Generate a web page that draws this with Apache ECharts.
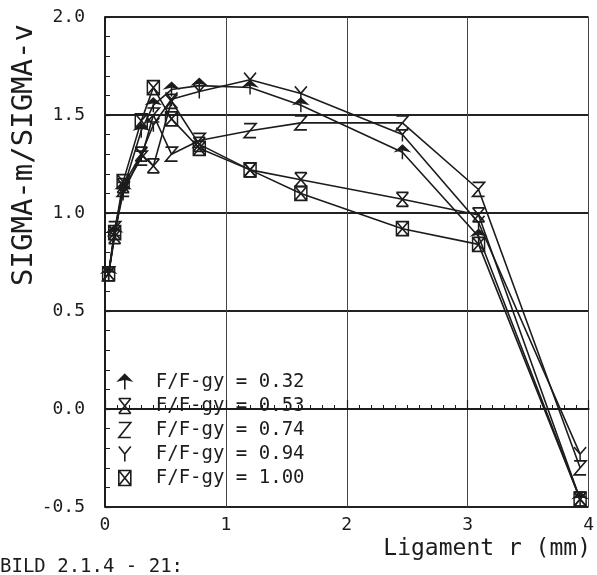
<!DOCTYPE html>
<html lang="en">
<head>
    <meta charset="UTF-8">
    <title>SIGMA-m/SIGMA-v</title>
    <script src="https://cdn.jsdelivr.net/npm/echarts@6/dist/echarts.min.js"></script>
    <style>
        html, body { margin: 0; padding: 0; background: #fff; }
    </style>
</head>
<body>
<div id="main" style="width: 597px;height:575px;"></div>
<script>
    // ligament position r (mm) of the measuring points
    var ligament = [0.03, 0.08, 0.15, 0.30, 0.40, 0.55, 0.78, 1.20, 1.62, 2.46, 3.09, 3.93];
    // SIGMA-m/SIGMA-v for each load level F/F-gy
    var s032 = [0.69, 0.90, 1.12, 1.42, 1.55, 1.63, 1.65, 1.64, 1.55, 1.31, 0.88, -0.46];
    var s053 = [0.69, 0.88, 1.14, 1.30, 1.24, 1.57, 1.35, 1.22, 1.17, 1.07, 0.99, -0.46];
    var s074 = [0.69, 0.92, 1.12, 1.28, 1.50, 1.30, 1.37, 1.42, 1.46, 1.46, 1.12, -0.30];
    var s094 = [0.69, 0.90, 1.10, 1.30, 1.45, 1.58, 1.62, 1.68, 1.61, 1.40, 0.95, -0.23];
    var s100 = [0.69, 0.90, 1.16, 1.47, 1.64, 1.48, 1.33, 1.22, 1.10, 0.92, 0.84, -0.46];
    var loads = ['0.32', '0.53', '0.74', '0.94', '1.00'];
    var yTicks = ['-0.5', '0.0', '0.5', '1.0', '1.5', '2.0'];

    var ink = '#1c1c1c';
    var font = 'DejaVu Sans Mono';

    // plotter symbols
    var symbols = [
        'path://M0,-10 L8,-2 L0,-4 L-8,-2 Z M0,-4 L0,10',
        'path://M-8,-10 L8,-10 M-8,-10 L8,10 M8,-10 L-8,10 M-8,10 L8,10',
        'path://M-8,-10 L8,-10 L-8,10 L8,10',
        'path://M-8,-10 L0,0 L8,-10 M0,0 L0,10',
        'path://M-8,-10 L8,-10 L8,10 L-8,10 Z M-8,-10 L8,10 M8,-10 L-8,10'
    ];
    var values = [s032, s053, s074, s094, s100];

    function pairs(ys) {
        var out = [];
        for (var i = 0; i < ys.length; i++) {
            out.push([ligament[i], ys[i]]);
        }
        return out;
    }

    var series = [];
    var legendData = [];
    for (var k = 0; k < loads.length; k++) {
        var name = 'F/F-gy = ' + loads[k];
        series.push({
            name: name,
            type: 'line',
            data: pairs(values[k]),
            symbol: symbols[k],
            symbolSize: [12, 14],
            showAllSymbol: true,
            lineStyle: {color: ink, width: 1.6},
            itemStyle: {
                color: k === 0 ? ink : 'rgba(0,0,0,0)',
                borderColor: ink,
                borderWidth: 1.6
            },
            emphasis: {disabled: true},
            animation: false
        });
        legendData.push({
            name: name,
            icon: symbols[k],
            itemStyle: {
                color: k === 0 ? ink : 'rgba(0,0,0,0)',
                borderColor: ink,
                borderWidth: 1.6
            }
        });
    }

    var myChart = echarts.init(document.getElementById('main'));

    var option = {
        backgroundColor: '#ffffff',
        animation: false,
        grid: {left: 105, right: 4, top: 17, bottom: 68},
        legend: {
            orient: 'vertical',
            left: 113,
            top: 366,
            itemGap: 2,
            itemWidth: 14,
            itemHeight: 15,
            data: legendData,
            textStyle: {
                fontFamily: font, fontSize: 19, color: ink,
                lineHeight: 22, padding: [0, 0, 0, 19]
            }
        },
        xAxis: {
            type: 'value',
            min: 0,
            max: 4,
            interval: 1,
            axisLine: {show: true, lineStyle: {color: ink, width: 2}},
            axisTick: {show: true, inside: true, length: 9, lineStyle: {color: ink, width: 1.2}},
            minorTick: {show: true, splitNumber: 10, length: 4, lineStyle: {color: ink, width: 1}},
            splitLine: {show: true, lineStyle: {color: '#444', width: 1}},
            axisLabel: {fontFamily: font, fontSize: 18, color: ink, margin: 9}
        },
        yAxis: {
            type: 'value',
            min: -0.5,
            max: 2.0,
            interval: 0.5,
            axisLine: {show: true, lineStyle: {color: ink, width: 2}},
            axisTick: {show: true, inside: true, length: 5, lineStyle: {color: ink, width: 1.2}},
            minorTick: {show: true, splitNumber: 5, length: 5, lineStyle: {color: ink, width: 1}},
            splitLine: {show: true, lineStyle: {color: '#222', width: 2}},
            axisLabel: {
                fontFamily: font, fontSize: 18, color: ink, margin: 20,
                formatter: function (v) {
                    var i = Math.round((v + 0.5) / 0.5);
                    return yTicks[i];
                }
            }
        },
        graphic: [
            {
                type: 'text',
                x: 24,
                y: 155,
                rotation: Math.PI / 2,
                style: {
                    text: 'SIGMA-m/SIGMA-v',
                    fontFamily: font,
                    fontSize: 29,
                    fill: ink,
                    textAlign: 'center',
                    textVerticalAlign: 'middle'
                }
            },
            {
                type: 'text',
                x: 591,
                y: 549,
                style: {
                    text: 'Ligament r (mm)',
                    fontFamily: font,
                    fontSize: 23,
                    fill: ink,
                    textAlign: 'right',
                    textVerticalAlign: 'middle'
                }
            },
            {
                type: 'text',
                x: 0,
                y: 567,
                style: {
                    text: 'BILD 2.1.4 - 21:',
                    fontFamily: font,
                    fontSize: 19,
                    fill: ink,
                    textAlign: 'left',
                    textVerticalAlign: 'middle'
                }
            }
        ],
        series: series
    };
    myChart.setOption(option);
</script>
</body>
</html>
